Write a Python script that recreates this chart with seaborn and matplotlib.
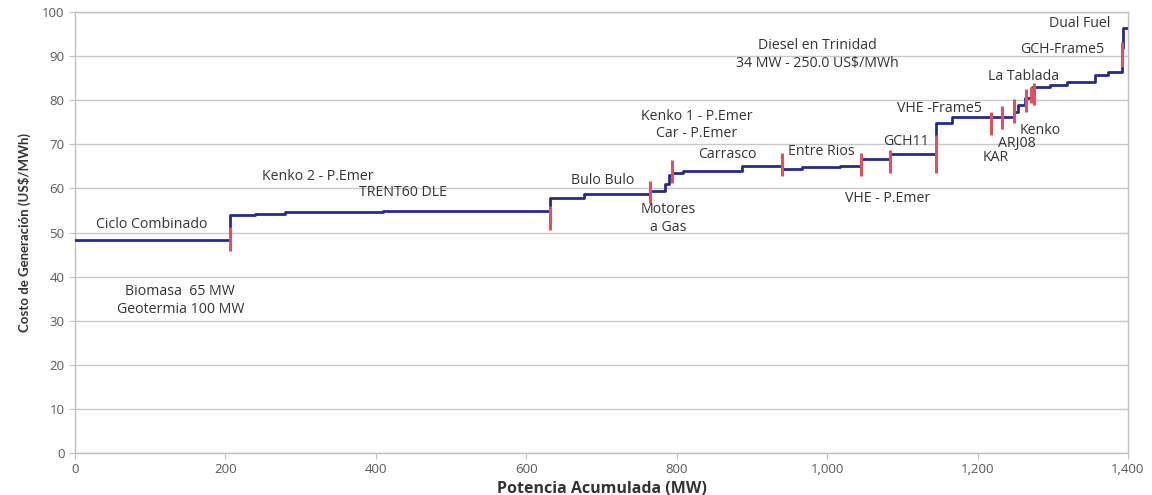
import matplotlib
matplotlib.use("Agg")
import matplotlib.pyplot as plt
import matplotlib.ticker as mticker
import seaborn as sns
import pandas as pd

# ---- data ----
step_mw = [0, 206, 239, 279, 410, 632, 677, 765, 785, 790, 794, 809, 887, 940, 966, 1017,
           1045, 1084, 1145, 1166, 1248, 1254, 1263, 1273, 1297, 1319, 1356, 1374, 1392, 1394, 1400]
step_cost = [48.3, 54.0, 54.2, 54.6, 54.9, 57.9, 58.7, 59.3, 61.0, 63.0, 63.4, 63.9, 65.0, 64.5, 64.8, 65.1,
             66.7, 67.8, 74.9, 76.1, 77.4, 78.9, 80.4, 83.0, 83.5, 84.1, 85.6, 86.5, 91.8, 96.3, 96.3]

marker_mw = [206, 632, 765, 794, 940, 1045, 1084, 1145, 1218, 1232, 1249, 1265, 1271, 1275, 1392]
marker_lo = [45.7, 50.6, 56.6, 61.2, 62.7, 62.7, 63.4, 63.6, 72.1, 73.4, 74.8, 77.4, 79.3, 78.9, 87.6]
marker_hi = [51.3, 56.1, 61.7, 66.4, 68.0, 68.0, 68.7, 72.0, 77.4, 78.7, 80.2, 82.5, 83.1, 83.9, 93.3]

labels = ["Ciclo Combinado", "Biomasa  65 MW\nGeotermia 100 MW", "Kenko 2 - P.Emer", "TRENT60 DLE",
          "Bulo Bulo", "Motores\na Gas", "Kenko 1 - P.Emer\nCar - P.Emer", "Carrasco", "Entre Rios",
          "Diesel en Trinidad\n34 MW - 250.0 US$/MWh", "GCH11", "VHE - P.Emer", "VHE -Frame5",
          "Kenko", "ARJ08", "KAR", "La Tablada", "GCH-Frame5", "Dual Fuel"]
label_x = [102, 140, 323, 436, 701, 789, 827, 867, 993, 987, 1105, 1080, 1150, 1283, 1253, 1224, 1261, 1312, 1336]
label_y = [51.9, 34.6, 62.6, 59.0, 61.9, 53.2, 74.4, 67.6, 68.3, 90.3, 70.7, 57.6, 78.2, 73.2, 70.1, 67.1, 85.3, 91.4, 97.3]

x_ticks = [0, 200, 400, 600, 800, 1000, 1200, 1400]
y_ticks = [0, 10, 20, 30, 40, 50, 60, 70, 80, 90, 100]

# ---- plot ----
sns.set_style("white")
plt.rcParams["font.family"] = ["Open Sans", "DejaVu Sans"]

fig = plt.figure(figsize=(11.52, 4.95), dpi=100)
ax = fig.add_axes([0.0651, 0.0848, 0.9140, 0.8910])

df = pd.DataFrame({"mw": step_mw, "cost": step_cost})
sns.lineplot(data=df, x="mw", y="cost", ax=ax, drawstyle="steps-post", estimator=None,
             sort=False, color="#262a8c", linewidth=2.0, zorder=3)
ax.vlines(marker_mw, marker_lo, marker_hi, colors="#e0505e", linewidth=2.2, zorder=4)

for t, x, y in zip(labels, label_x, label_y):
    ax.text(x, y, t, ha="center", va="center", fontsize=10.2, color="#333333",
            linespacing=1.25, zorder=5)

ax.set_xlim(0, 1400)
ax.set_ylim(0, 100)
ax.set_xticks(x_ticks)
ax.set_yticks(y_ticks)
ax.xaxis.set_major_formatter(mticker.FuncFormatter(lambda v, p: f"{int(v):,}"))
ax.yaxis.grid(True, color="#c8c8c8", linewidth=1.0)
ax.set_axisbelow(True)
for s in ["left", "bottom", "right", "top"]:
    ax.spines[s].set_color("#c0c0c0")
    ax.spines[s].set_linewidth(1.0)
ax.tick_params(axis="both", colors="#595959", labelsize=9.5, length=4, direction="out",
               left=True, bottom=True)
ax.tick_params(axis="both", color="#c0c0c0")

ax.set_xlabel("Potencia Acumulada (MW)", fontsize=11.5, fontweight="bold", color="#333333", labelpad=3)
ax.set_ylabel("Costo de Generación (US$/MWh)", fontsize=9.5, fontweight="bold", color="#333333",
              labelpad=8, family=["Lato", "DejaVu Sans"])

fig.savefig("out.png", dpi=100)
